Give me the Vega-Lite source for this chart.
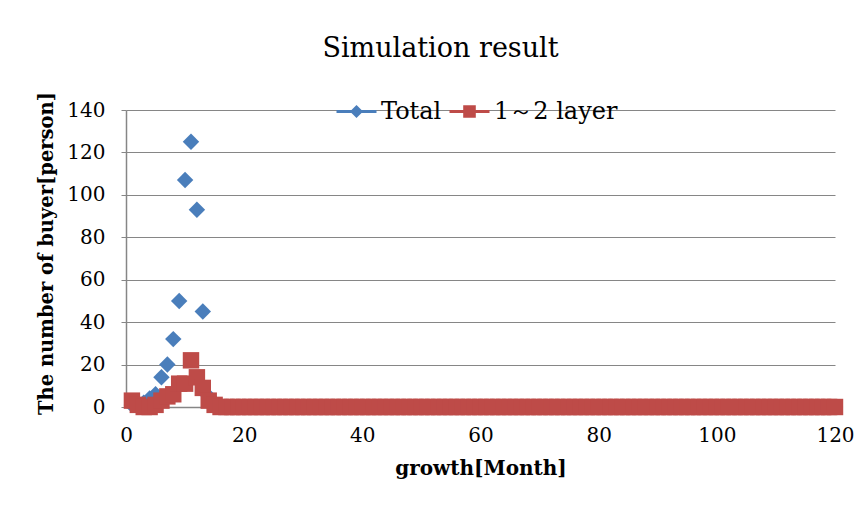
{
  "$schema": "https://vega.github.io/schema/vega-lite/v6.json",
  "width": 709,
  "height": 297,
  "autosize": {"type": "none"},
  "padding": {"left": 126, "top": 110, "right": 29, "bottom": 98},
  "background": "white",
  "config": {
    "font": "DejaVu Serif",
    "view": {"stroke": null},
    "axis": {
      "labelFont": "DejaVu Serif",
      "titleFont": "DejaVu Serif",
      "labelFontSize": 20,
      "titleFontSize": 20,
      "labelColor": "#000000",
      "titleColor": "#000000",
      "domainColor": "#868686",
      "tickColor": "#868686",
      "gridColor": "#868686",
      "gridOpacity": 1,
      "domainWidth": 1.5,
      "labelFlush": false
    },
    "legend": {
      "title": null,
      "orient": "none",
      "direction": "horizontal",
      "padding": 0,
      "labelFont": "DejaVu Serif",
      "labelFontSize": 24,
      "labelColor": "#000000",
      "labelOffset": 3,
      "symbolSize": 1600,
      "symbolStrokeWidth": 3,
      "symbolOpacity": 1
    }
  },
  "title": {
    "text": "Simulation result",
    "font": "DejaVu Serif",
    "fontSize": 27,
    "fontWeight": "normal",
    "color": "#000000",
    "anchor": "middle",
    "dx": -40,
    "offset": 27
  },
  "data": {
    "values": [
      {"m": 1, "total": 1, "layer": 3}, {"m": 2, "total": 1, "layer": 1},
      {"m": 3, "total": 2, "layer": 0}, {"m": 4, "total": 4, "layer": 0},
      {"m": 5, "total": 6, "layer": 1}, {"m": 6, "total": 14, "layer": 3},
      {"m": 7, "total": 20, "layer": 5}, {"m": 8, "total": 32, "layer": 6},
      {"m": 9, "total": 50, "layer": 11}, {"m": 10, "total": 107, "layer": 11},
      {"m": 11, "total": 125, "layer": 22}, {"m": 12, "total": 93, "layer": 14},
      {"m": 13, "total": 45, "layer": 9}, {"m": 14, "total": 5, "layer": 3},
      {"m": 15, "total": 1, "layer": 1}, {"m": 16, "total": 0, "layer": 0},
      {"m": 17, "total": 0, "layer": 0}, {"m": 18, "total": 0, "layer": 0},
      {"m": 19, "total": 0, "layer": 0}, {"m": 20, "total": 0, "layer": 0},
      {"m": 21, "total": 0, "layer": 0}, {"m": 22, "total": 0, "layer": 0},
      {"m": 23, "total": 0, "layer": 0}, {"m": 24, "total": 0, "layer": 0},
      {"m": 25, "total": 0, "layer": 0}, {"m": 26, "total": 0, "layer": 0},
      {"m": 27, "total": 0, "layer": 0}, {"m": 28, "total": 0, "layer": 0},
      {"m": 29, "total": 0, "layer": 0}, {"m": 30, "total": 0, "layer": 0},
      {"m": 31, "total": 0, "layer": 0}, {"m": 32, "total": 0, "layer": 0},
      {"m": 33, "total": 0, "layer": 0}, {"m": 34, "total": 0, "layer": 0},
      {"m": 35, "total": 0, "layer": 0}, {"m": 36, "total": 0, "layer": 0},
      {"m": 37, "total": 0, "layer": 0}, {"m": 38, "total": 0, "layer": 0},
      {"m": 39, "total": 0, "layer": 0}, {"m": 40, "total": 0, "layer": 0},
      {"m": 41, "total": 0, "layer": 0}, {"m": 42, "total": 0, "layer": 0},
      {"m": 43, "total": 0, "layer": 0}, {"m": 44, "total": 0, "layer": 0},
      {"m": 45, "total": 0, "layer": 0}, {"m": 46, "total": 0, "layer": 0},
      {"m": 47, "total": 0, "layer": 0}, {"m": 48, "total": 0, "layer": 0},
      {"m": 49, "total": 0, "layer": 0}, {"m": 50, "total": 0, "layer": 0},
      {"m": 51, "total": 0, "layer": 0}, {"m": 52, "total": 0, "layer": 0},
      {"m": 53, "total": 0, "layer": 0}, {"m": 54, "total": 0, "layer": 0},
      {"m": 55, "total": 0, "layer": 0}, {"m": 56, "total": 0, "layer": 0},
      {"m": 57, "total": 0, "layer": 0}, {"m": 58, "total": 0, "layer": 0},
      {"m": 59, "total": 0, "layer": 0}, {"m": 60, "total": 0, "layer": 0},
      {"m": 61, "total": 0, "layer": 0}, {"m": 62, "total": 0, "layer": 0},
      {"m": 63, "total": 0, "layer": 0}, {"m": 64, "total": 0, "layer": 0},
      {"m": 65, "total": 0, "layer": 0}, {"m": 66, "total": 0, "layer": 0},
      {"m": 67, "total": 0, "layer": 0}, {"m": 68, "total": 0, "layer": 0},
      {"m": 69, "total": 0, "layer": 0}, {"m": 70, "total": 0, "layer": 0},
      {"m": 71, "total": 0, "layer": 0}, {"m": 72, "total": 0, "layer": 0},
      {"m": 73, "total": 0, "layer": 0}, {"m": 74, "total": 0, "layer": 0},
      {"m": 75, "total": 0, "layer": 0}, {"m": 76, "total": 0, "layer": 0},
      {"m": 77, "total": 0, "layer": 0}, {"m": 78, "total": 0, "layer": 0},
      {"m": 79, "total": 0, "layer": 0}, {"m": 80, "total": 0, "layer": 0},
      {"m": 81, "total": 0, "layer": 0}, {"m": 82, "total": 0, "layer": 0},
      {"m": 83, "total": 0, "layer": 0}, {"m": 84, "total": 0, "layer": 0},
      {"m": 85, "total": 0, "layer": 0}, {"m": 86, "total": 0, "layer": 0},
      {"m": 87, "total": 0, "layer": 0}, {"m": 88, "total": 0, "layer": 0},
      {"m": 89, "total": 0, "layer": 0}, {"m": 90, "total": 0, "layer": 0},
      {"m": 91, "total": 0, "layer": 0}, {"m": 92, "total": 0, "layer": 0},
      {"m": 93, "total": 0, "layer": 0}, {"m": 94, "total": 0, "layer": 0},
      {"m": 95, "total": 0, "layer": 0}, {"m": 96, "total": 0, "layer": 0},
      {"m": 97, "total": 0, "layer": 0}, {"m": 98, "total": 0, "layer": 0},
      {"m": 99, "total": 0, "layer": 0}, {"m": 100, "total": 0, "layer": 0},
      {"m": 101, "total": 0, "layer": 0}, {"m": 102, "total": 0, "layer": 0},
      {"m": 103, "total": 0, "layer": 0}, {"m": 104, "total": 0, "layer": 0},
      {"m": 105, "total": 0, "layer": 0}, {"m": 106, "total": 0, "layer": 0},
      {"m": 107, "total": 0, "layer": 0}, {"m": 108, "total": 0, "layer": 0},
      {"m": 109, "total": 0, "layer": 0}, {"m": 110, "total": 0, "layer": 0},
      {"m": 111, "total": 0, "layer": 0}, {"m": 112, "total": 0, "layer": 0},
      {"m": 113, "total": 0, "layer": 0}, {"m": 114, "total": 0, "layer": 0},
      {"m": 115, "total": 0, "layer": 0}, {"m": 116, "total": 0, "layer": 0},
      {"m": 117, "total": 0, "layer": 0}, {"m": 118, "total": 0, "layer": 0},
      {"m": 119, "total": 0, "layer": 0}, {"m": 120, "total": 0, "layer": 0}
    ]
  },
  "encoding": {
    "x": {
      "field": "m",
      "type": "quantitative",
      "scale": {"domain": [0, 120], "nice": false},
      "axis": {
        "title": "growth[Month]",
        "titleFontWeight": "bold",
        "values": [0, 20, 40, 60, 80, 100, 120],
        "grid": false,
        "ticks": false,
        "labelPadding": 18,
        "titlePadding": 13
      }
    }
  },
  "layer": [
    {
      "mark": {"type": "point", "filled": true, "opacity": 1, "size": 270, "shape": "diamond"},
      "encoding": {
        "y": {
          "field": "total",
          "type": "quantitative",
          "scale": {"domain": [0, 140], "nice": false},
          "axis": {
            "title": "The number of buyer[person]",
            "titleFontWeight": "bold",
            "titleFontSize": 19.5,
            "titleY": 143,
            "values": [0, 20, 40, 60, 80, 100, 120, 140],
            "tickSize": 5,
            "labelPadding": 16,
            "titlePadding": 10
          }
        },
        "fill": {
          "datum": "Total",
          "type": "nominal",
          "scale": {"domain": ["Total"], "range": ["#4A7EBB"]},
          "legend": {
            "legendX": 209,
            "legendY": -20,
            "symbolType": "M-1,0H1M0,-0.22L0.22,0L0,0.22L-0.22,0Z",
            "symbolStrokeColor": "#4A7EBB",
            "symbolFillColor": "#4A7EBB"
          }
        }
      }
    },
    {
      "mark": {"type": "point", "filled": true, "opacity": 1, "size": 270, "shape": "square"},
      "encoding": {
        "y": {"field": "layer", "type": "quantitative"},
        "color": {
          "datum": "1～2 layer",
          "type": "nominal",
          "scale": {"domain": ["1～2 layer"], "range": ["#BE4B48"]},
          "legend": {
            "legendX": 322,
            "legendY": -20,
            "symbolType": "M-1,0H1M-0.24,-0.24H0.24V0.24H-0.24Z",
            "symbolStrokeColor": "#BE4B48",
            "symbolFillColor": "#BE4B48"
          }
        }
      }
    }
  ]
}
